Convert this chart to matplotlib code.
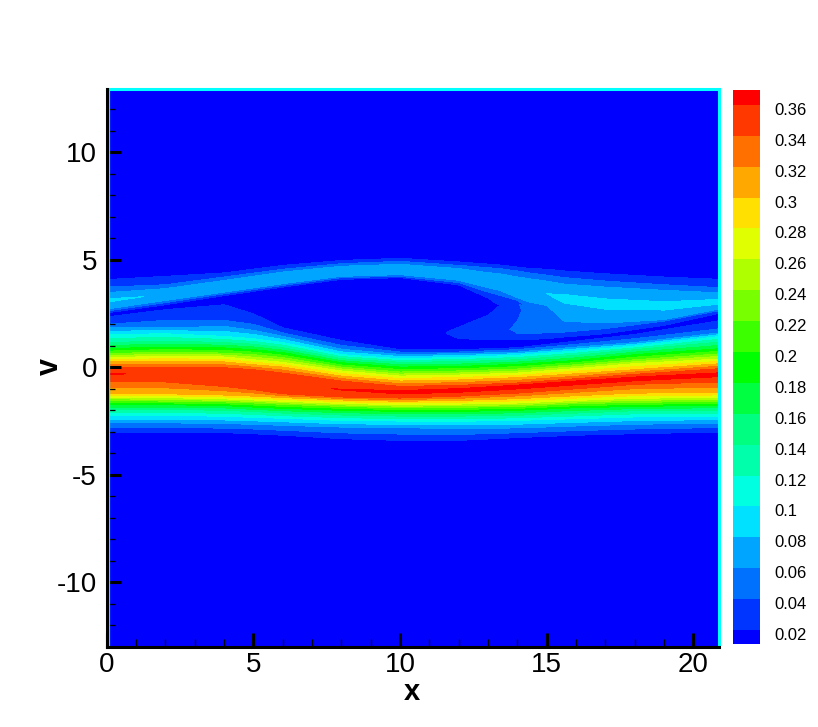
import numpy as np
import matplotlib
matplotlib.use("Agg")
import matplotlib.pyplot as plt
from matplotlib.transforms import ScaledTranslation

plt.rcParams['font.family'] = ['Liberation Sans', 'DejaVu Sans']
plt.rcParams['axes.unicode_minus'] = False

# colour levels and legend
levels = [0.02, 0.04, 0.06, 0.08, 0.10, 0.12, 0.14, 0.16, 0.18, 0.20, 0.22,
          0.24, 0.26, 0.28, 0.30, 0.32, 0.34, 0.36, 0.40]
band_colors = ['#0035ff', '#0070ff', '#00a5ff', '#00e0ff', '#00ffe0', '#00ffaa',
               '#00ff80', '#00ff40', '#00ff00', '#3cff00', '#78ff00', '#b0ff00',
               '#e0ff00', '#ffe000', '#ffa800', '#ff7000', '#ff3800', '#ff0000']
base_color = '#0000ff'
cbar_labels = ['0.02', '0.04', '0.06', '0.08', '0.1', '0.12', '0.14', '0.16', '0.18',
               '0.2', '0.22', '0.24', '0.26', '0.28', '0.3', '0.32', '0.34', '0.36']
cbar_low, cbar_high = 0.0109, 0.3697

# main band: v position of each iso-level at each x station
main_x = [0, 2, 4, 5, 6, 8, 10, 12, 14, 16, 18, 20.94]
main_lo02 = [-3.01, -3.01, -3.04, -3.09, -3.16, -3.32, -3.40, -3.40, -3.27, -3.16, -3.09, -3.01]
main_lo06 = [-2.59, -2.58, -2.62, -2.65, -2.70, -2.78, -2.81, -2.85, -2.82, -2.73, -2.65, -2.59]
main_lo10 = [-2.22, -2.23, -2.28, -2.33, -2.37, -2.47, -2.50, -2.51, -2.47, -2.39, -2.31, -2.27]
main_lo14 = [-1.96, -1.96, -2.00, -2.06, -2.13, -2.22, -2.27, -2.27, -2.23, -2.13, -2.02, -2.00]
main_lo18 = [-1.74, -1.74, -1.78, -1.85, -1.91, -2.00, -2.05, -2.05, -2.00, -1.88, -1.82, -1.76]
main_lo22 = [-1.55, -1.57, -1.61, -1.66, -1.72, -1.82, -1.88, -1.86, -1.82, -1.69, -1.63, -1.58]
main_lo26 = [-1.38, -1.41, -1.47, -1.52, -1.58, -1.68, -1.74, -1.71, -1.66, -1.54, -1.44, -1.40]
main_lo30 = [-1.20, -1.23, -1.29, -1.34, -1.41, -1.52, -1.58, -1.54, -1.46, -1.32, -1.20, -1.17]
main_lo34 = [-0.65, -0.68, -0.89, -1.04, -1.23, -1.38, -1.43, -1.34, -1.20, -1.00, -0.79, -0.68]
main_peak_v = [-0.30, -0.33, -0.45, -0.61, -0.73, -1.04, -1.16, -1.07, -0.89, -0.70, -0.53, -0.33]
main_peak_f = [0.3615, 0.357, 0.356, 0.354, 0.355, 0.361, 0.368, 0.37, 0.372, 0.372, 0.372, 0.368]
main_hi34 = [0.01, 0.01, -0.02, -0.11, -0.27, -0.64, -0.89, -0.84, -0.73, -0.53, -0.33, -0.06]
main_hi30 = [0.25, 0.29, 0.25, 0.12, 0.01, -0.41, -0.64, -0.59, -0.48, -0.30, -0.11, 0.17]
main_hi26 = [0.45, 0.51, 0.48, 0.35, 0.23, -0.17, -0.41, -0.36, -0.27, -0.06, 0.17, 0.39]
main_hi22 = [0.63, 0.71, 0.66, 0.59, 0.45, 0.01, -0.22, -0.17, -0.08, 0.12, 0.35, 0.63]
main_hi18 = [0.87, 0.94, 0.90, 0.82, 0.68, 0.21, 0.01, 0.04, 0.14, 0.32, 0.59, 0.87]
main_hi14 = [1.15, 1.22, 1.15, 1.07, 0.91, 0.40, 0.23, 0.26, 0.35, 0.56, 0.82, 1.18]
main_hi10 = [1.52, 1.56, 1.44, 1.33, 1.15, 0.59, 0.40, 0.46, 0.56, 0.76, 0.99, 1.44]
main_hi06 = [1.84, 1.84, 1.90, 1.72, 1.44, 0.84, 0.60, 0.63, 0.71, 0.94, 1.15, 1.61]
main_hi04 = [2.00, 2.18, 2.18, 2.00, 1.60, 1.02, 0.71, 0.71, 0.82, 1.07, 1.33, 1.80]
main_hi02 = [2.34, 2.68, 2.91, 2.49, 1.84, 1.25, 0.82, 0.82, 0.91, 1.22, 1.53, 2.18]

# upper filament
fil_x = [0, 2, 4, 6, 8, 10, 12, 13, 13.4, 14, 14.4, 15, 15.6, 17, 19, 20.94]
fil_lo_a = [2.53, 2.91, 3.33, 3.73, 4.09, 4.17, 3.83, 3.22, 2.88, 2.99, 2.84, 2.73, 2.03, 1.97, 2.15, 2.68]
fil_lo_a_f = [0.02, 0.02, 0.02, 0.02, 0.02, 0.02, 0.02, 0.02, 0.02, 0.03, 0.05, 0.05, 0.05, 0.05, 0.05, 0.05]
fil_lo_b = [2.62, 3.01, 3.42, 3.81, 4.17, 4.23, 3.94, 3.50, 3.35, 3.11, 2.93, 2.80, 2.08, 2.01, 2.18, 2.70]
fil_lo_b_f = [0.04, 0.04, 0.04, 0.04, 0.04, 0.04, 0.04, 0.04, 0.04, 0.04, 0.055, 0.055, 0.055, 0.055, 0.055, 0.055]
fil_lo06 = [2.71, 3.11, 3.50, 3.89, 4.23, 4.31, 4.05, 3.70, 3.58, 3.24, 3.04, 2.88, 2.14, 2.06, 2.22, 2.73]
fil_crest_v = [3.11, 3.39, 3.77, 4.17, 4.46, 4.54, 4.30, 3.97, 3.89, 3.73, 3.58, 3.42, 3.24, 2.96, 2.84, 3.04]
fil_crest_f = [0.085, 0.077, 0.076, 0.076, 0.076, 0.076, 0.075, 0.074, 0.074, 0.073, 0.076, 0.08, 0.086, 0.088, 0.088, 0.088]
fil_hi06 = [3.47, 3.66, 4.04, 4.43, 4.70, 4.79, 4.59, 4.40, 4.35, 4.20, 4.12, 4.01, 3.87, 3.73, 3.58, 3.46]
fil_hi04 = [3.73, 3.84, 4.20, 4.56, 4.82, 4.93, 4.74, 4.63, 4.59, 4.48, 4.39, 4.29, 4.17, 4.01, 3.84, 3.70]
fil_hi02 = [4.08, 4.23, 4.39, 4.74, 4.97, 5.07, 4.90, 4.80, 4.76, 4.66, 4.60, 4.56, 4.48, 4.35, 4.20, 4.09]

# tongue below the filament on the right
lobe_x = [11.4, 12, 13, 13.4, 14, 14.4, 15, 15.6, 17, 19, 20.94]
lobe_a = [1.60, 1.33, 1.29, 1.29, 1.29, 1.30, 1.33, 1.41, 1.56, 1.95, 2.53]
lobe_a_f = [0.015, 0.02, 0.02, 0.02, 0.02, 0.02, 0.02, 0.02, 0.02, 0.02, 0.02]
lobe_b = [1.62, 1.44, 1.49, 1.53, 1.58, 1.58, 1.60, 1.64, 1.80, 2.15, 2.65]
lobe_b_f = [0.015, 0.03, 0.03, 0.033, 0.04, 0.04, 0.04, 0.04, 0.04, 0.04, 0.04]
lobe_c = [1.64, 1.64, 1.80, 1.80, 1.75, 1.87, 1.95, 1.95, 1.95, 2.18, 2.71]
lobe_c_f = [0.015, 0.03, 0.032, 0.036, 0.043, 0.05, 0.055, 0.058, 0.058, 0.05, 0.05]
lobe_d = [1.66, 1.87, 2.42, 2.88, 2.65, 2.65, 2.65, 2.65, 2.34, 2.42, 2.80]
lobe_d_f = [0.015, 0.02, 0.02, 0.02, 0.036, 0.047, 0.058, 0.059, 0.059, 0.055, 0.055]
lobe_e = [1.68, 2.18, 2.80, 3.27, 3.27, 3.27, 3.27, 3.27, 2.80, 2.80, 2.96]
lobe_e_f = [0.015, 0.015, 0.015, 0.025, 0.04, 0.05, 0.058, 0.059, 0.059, 0.055, 0.055]

# axis ticks
x_major = [0, 5, 10, 15, 20]
y_major = [-10, -5, 0, 5, 10]
x_limits = (0, 20.88)
y_limits = (-13, 12.93)

W, H = 818, 727
fig = plt.figure(figsize=(W / 100, H / 100), dpi=100, facecolor='white')
L, R, T, B = 106.7, 719.2, 89.3, 646.8
ax = fig.add_axes([L / W, (H - B) / H, (R - L) / W, (B - T) / H], facecolor=base_color)

main_rows_v = [main_lo02, main_lo06, main_lo10, main_lo14, main_lo18, main_lo22, main_lo26,
               main_lo30, main_lo34, main_peak_v, main_hi34, main_hi30, main_hi26, main_hi22,
               main_hi18, main_hi14, main_hi10, main_hi06, main_hi04, main_hi02]
main_row_f = [0.02, 0.06, 0.10, 0.14, 0.18, 0.22, 0.26, 0.30, 0.34, None, 0.34, 0.30, 0.26,
              0.22, 0.18, 0.14, 0.10, 0.06, 0.04, 0.02]
mx = np.array(main_x)
MV = np.array(main_rows_v)
MX = np.tile(mx, (MV.shape[0], 1))
MF = np.array([main_peak_f if f is None else [f] * len(mx) for f in main_row_f])

fx = np.array(fil_x)
FV = np.array([fil_lo_a, fil_lo_b, fil_lo06, fil_crest_v, fil_hi06, fil_hi04, fil_hi02])
FX = np.tile(fx, (FV.shape[0], 1))
n = len(fx)
FF = np.array([fil_lo_a_f, fil_lo_b_f, [0.06] * n, fil_crest_f, [0.06] * n, [0.04] * n, [0.02] * n])

lx = np.array(lobe_x)
LV = np.array([lobe_a, lobe_b, lobe_c, lobe_d, lobe_e])
LX = np.tile(lx, (LV.shape[0], 1))
LF = np.array([lobe_a_f, lobe_b_f, lobe_c_f, lobe_d_f, lobe_e_f])

ax.contourf(MX, MV, MF, levels=levels, colors=band_colors, zorder=1)
ax.contourf(LX, LV, LF, levels=levels, colors=band_colors, zorder=2)
ax.contourf(FX, FV, FF, levels=levels, colors=band_colors, zorder=3)

ax.set_xlim(*x_limits)
ax.set_ylim(*y_limits)
ax.set_xticks(x_major)
ax.set_yticks(y_major)
ax.set_xticks(np.arange(0, 21, 1), minor=True)
ax.set_yticks(np.arange(-12, 13, 1), minor=True)
ax.tick_params(which='major', direction='in', length=10, width=2.2, labelsize=20,
               top=False, right=False, zorder=6)
ax.tick_params(axis='x', which='major', pad=3.5)
ax.tick_params(axis='y', which='major', pad=7)
ax.tick_params(which='minor', direction='in', length=5.5, width=0.9, top=False, right=False)
for s in ('left', 'bottom'):
    ax.spines[s].set_linewidth(2.2)
    ax.spines[s].set_color('black')
    ax.spines[s].set_zorder(8)
for s in ('top', 'right'):
    ax.spines[s].set_linewidth(2.2)
    ax.spines[s].set_color('#00ffff')
    ax.spines[s].set_zorder(7)
ax.axvline(0.07, color='#00ffff', lw=0.9, zorder=5)

ax.set_xlabel('x', fontsize=21, fontweight='bold')
ax.set_ylabel('v', fontsize=22, fontweight='bold')
ax.xaxis.set_label_coords((412 - L) / (R - L), -(700 - B) / (B - T), transform=ax.transAxes)
ax.xaxis.label.set_verticalalignment('baseline')
ax.yaxis.set_label_coords((50 - L) / (R - L), (B - 366) / (B - T), transform=ax.transAxes)
ax.yaxis.label.set_verticalalignment('center')

# legend
cax = fig.add_axes([733 / W, (H - 644) / H, 27 / W, 554 / H])
edges = np.array([cbar_low] + levels[:-1] + [cbar_high])
cax.pcolormesh([0, 1], edges, np.arange(len(edges) - 1)[:, None],
               cmap=matplotlib.colors.ListedColormap([base_color] + band_colors),
               shading='flat', antialiased=False)
cax.set_xlim(0, 1)
cax.set_ylim(cbar_low, cbar_high)
cax.set_xticks([])
cax.set_yticks(levels[:-1], labels=cbar_labels)
cax.yaxis.tick_right()
cax.tick_params(axis='y', length=0, pad=10, labelsize=12)
for sp in cax.spines.values():
    sp.set_visible(False)
shift = ScaledTranslation(0, -4 / 100, fig.dpi_scale_trans)
for lab in cax.get_yticklabels():
    lab.set_transform(lab.get_transform() + shift)

fig.savefig('out.png', dpi=100)
